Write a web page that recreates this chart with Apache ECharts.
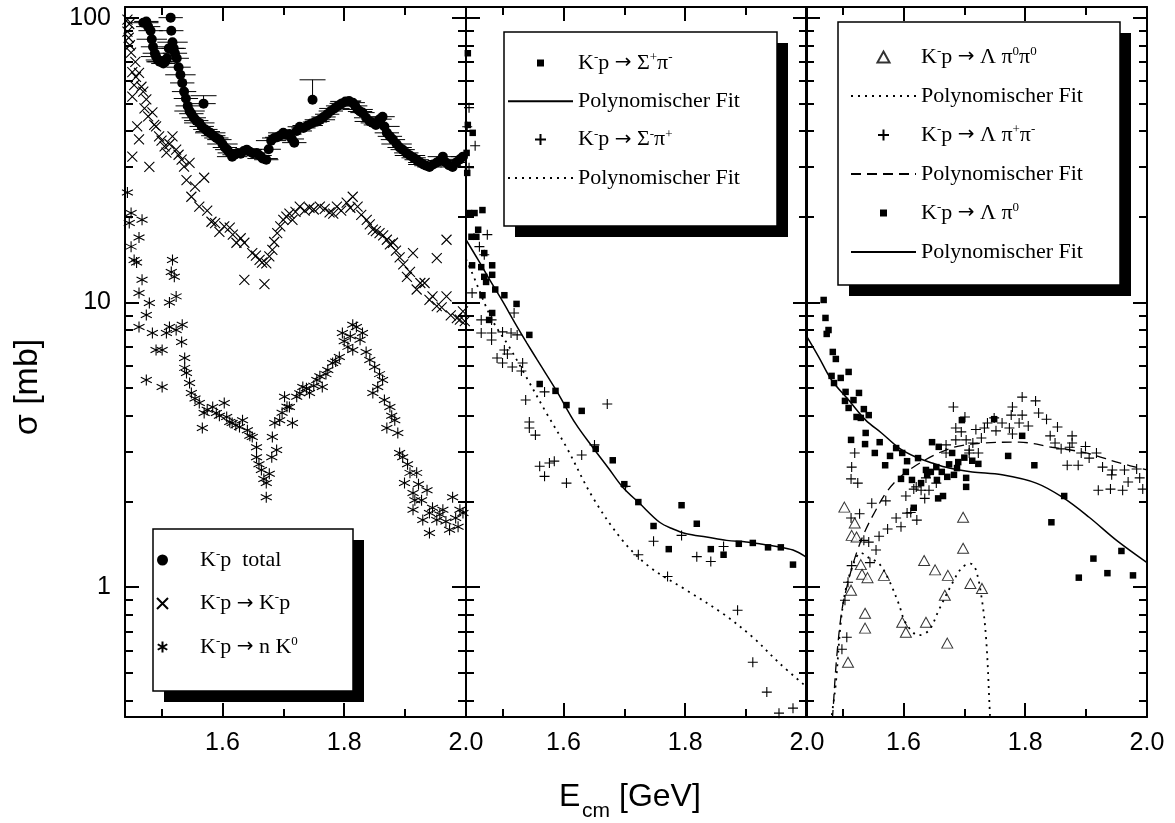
<!DOCTYPE html>
<html><head><meta charset="utf-8">
<script src="https://cdn.jsdelivr.net/npm/echarts@6.0.0/dist/echarts.min.js"></script>
<style>html,body{margin:0;padding:0;background:#fff}#c{width:1175px;height:823px}</style>
</head><body><div id="c"></div>
<script>
// ---------------- data ----------------
const xTickLabels = [1.6, 1.8, 2.0];
const xMinorTicks = [1.5, 1.7, 1.9];
const yTickLabels = [1, 10, 100];
const yMinorTicks = [0.4,0.5,0.6,0.7,0.8,0.9,2,3,4,5,6,7,8,9,20,30,40,50,60,70,80,90];

// K-p total: [E, sigma, dE]
const kpTotal = [
[1.470,96,0.025],[1.475,97,0.02],[1.478,93,0.02],[1.482,90,0.02],[1.484,84,0.025],[1.486,79,0.02],
[1.489,75,0.02],[1.491,73,0.025],[1.494,71,0.02],[1.497,70,0.02],[1.500,70,0.025],[1.503,69,0.02],
[1.506,70,0.02],[1.509,72,0.02],[1.512,78,0.025],[1.515,100,0.02],[1.516,90,0.02],[1.518,82,0.025],
[1.520,78,0.02],[1.522,75,0.02],[1.525,72,0.02],[1.528,67,0.02],[1.531,63,0.025],[1.534,59,0.02],
[1.537,55,0.02],[1.540,52,0.02],[1.543,49,0.02],[1.546,47,0.025],[1.549,46,0.02],[1.553,44.5,0.02],
[1.557,43.5,0.02],[1.562,42.7,0.025],[1.566,41.5,0.02],[1.569,49.9,0.02],[1.572,40.5,0.02],[1.576,39.8,0.02],
[1.580,39.4,0.025],[1.585,38.5,0.02],[1.590,37.8,0.02],[1.595,37.3,0.02],[1.600,36,0.025],[1.604,35,0.02],
[1.608,34.4,0.02],[1.612,33.5,0.02],[1.616,32.5,0.025],[1.620,33,0.02],[1.625,33.5,0.02],[1.630,33.3,0.02],
[1.635,34.0,0.02],[1.640,34.4,0.025],[1.645,33.8,0.02],[1.650,33.4,0.02],[1.656,33.5,0.02],[1.661,32.8,0.02],
[1.666,32.0,0.025],[1.672,31.7,0.02],[1.676,34.5,0.02],[1.680,37,0.025],[1.685,37.8,0.02],[1.690,38.0,0.02],
[1.695,38.6,0.02],[1.700,39.4,0.025],[1.705,38.8,0.02],[1.710,39.0,0.02],[1.714,37.5,0.02],[1.718,36.4,0.02],
[1.722,40.0,0.025],[1.727,41.4,0.02],[1.733,41.0,0.02],[1.740,41.8,0.025],[1.746,42.5,0.02],[1.748,51.5,0],
[1.752,43.0,0.02],[1.756,43.2,0.02],[1.760,43.8,0.025],[1.766,44.8,0.02],[1.772,45.8,0.02],[1.778,47.0,0.02],
[1.784,48.0,0.025],[1.790,49.0,0.02],[1.796,50.0,0.02],[1.802,50.8,0.025],[1.808,51.0,0.02],[1.814,50.3,0.02],
[1.818,49.0,0.02],[1.822,47.6,0.025],[1.826,46.8,0.02],[1.830,46.4,0.02],[1.836,44.5,0.02],[1.842,43.2,0.025],
[1.847,42.7,0.02],[1.852,42.0,0.02],[1.858,44.0,0.02],[1.863,44.9,0.02],[1.866,41.5,0.025],[1.870,39.4,0.02],
[1.875,38.3,0.02],[1.880,37.3,0.02],[1.886,36.0,0.025],[1.891,35.0,0.02],[1.896,34.4,0.02],[1.902,33.5,0.02],
[1.908,32.8,0.025],[1.914,32.2,0.02],[1.919,31.7,0.02],[1.925,31.0,0.02],[1.930,30.5,0.025],[1.935,30.2,0.02],
[1.940,29.9,0.02],[1.946,30.5,0.02],[1.952,31.0,0.02],[1.957,31.5,0.02],[1.962,32.5,0.025],[1.967,31.0,0.02],
[1.972,30.3,0.02],[1.978,29.9,0.02],[1.984,31.0,0.025],[1.990,31.8,0.02],[1.995,32.5,0.02]
];
// upward error bars: [E, sigma, sigmaHigh]
const kpTotalErrUp = [[1.569,49.9,53.2],[1.748,51.5,60.5]];

const kpElastic = [
[1.444,98.4],[1.447,95],[1.446,85],[1.444,89.4],[1.450,75.4],[1.452,64.4],[1.455,58.0],[1.452,52.8],[1.463,64.0],
[1.467,57.2],[1.475,51.6],[1.460,41.5],[1.463,37.4],[1.452,32.5],[1.480,29.9],[1.485,46.5],[1.491,41.5],[1.496,38.3],
[1.505,35.3],[1.508,33.6],[1.518,38.3],[1.524,34.4],[1.533,31.7],[1.546,30.9],[1.541,26.9],[1.570,27.4],[1.549,23.5],
[1.562,21.7],[1.582,19.2],[1.595,17.7],[1.612,18.3],[1.623,16.2],[1.636,16.2],[1.649,14.9],[1.661,14.1],[1.672,13.7],
[1.636,12.0],[1.669,11.6],[1.682,15.3],[1.690,17.5],[1.705,20.0],[1.715,19.5],[1.727,21.7],[1.743,21.5],[1.760,21.7],
[1.776,20.7],[1.788,21.7],[1.804,22.4],[1.814,23.5],[1.822,21.7],[1.837,19.5],[1.847,18.0],[1.858,17.5],[1.870,16.6],
[1.880,16.2],[1.891,14.4],[1.903,12.3],[1.913,14.9],[1.919,11.1],[1.932,11.7],[1.940,10.2],[1.952,9.7],[1.968,16.6],
[1.952,14.3],[1.968,10.5],[1.990,8.7],[1.448,80],[1.457,70],[1.458,62],[1.470,55],[1.472,48],[1.478,45],[1.488,42],
[1.500,37],[1.513,36],[1.528,33],[1.537,30],[1.555,25.5],[1.575,21],[1.588,19],[1.603,18.5],[1.617,17.3],[1.630,16.8],
[1.655,14.6],[1.665,13.8],[1.677,14.5],[1.685,16.3],[1.695,18.5],[1.700,19.5],[1.710,20.5],[1.720,20.8],[1.735,21.0],
[1.750,21.2],[1.768,21.3],[1.782,20.5],[1.795,21.0],[1.810,21.5],[1.828,20.3],[1.842,18.8],[1.852,17.8],[1.864,17.2],
[1.875,16.0],[1.885,15.2],[1.897,13.6],[1.908,12.8],[1.925,11.7],[1.945,10.5],[1.960,9.6],[1.975,9.0],[1.985,8.8],
[1.995,9.3],[1.998,8.6]
];

const kpChargeEx = [
[1.444,24.3],[1.450,20.6],[1.447,19.0],[1.468,19.5],[1.463,16.9],[1.450,15.7],[1.455,14.1],[1.459,13.8],[1.468,12.0],
[1.463,10.8],[1.480,9.96],[1.518,14.1],[1.516,12.8],[1.521,12.3],[1.524,10.5],[1.513,10.0],[1.463,8.20],[1.475,9.03],
[1.485,7.81],[1.491,6.81],[1.501,6.81],[1.508,7.81],[1.513,8.20],[1.524,8.00],[1.534,8.34],[1.475,5.34],[1.501,5.05],
[1.533,7.26],[1.538,6.38],[1.538,5.89],[1.541,5.65],[1.546,5.21],[1.549,4.81],[1.562,4.43],[1.570,4.09],[1.567,3.62],
[1.584,4.29],[1.590,4.09],[1.603,4.43],[1.607,3.96],[1.616,3.77],[1.628,3.65],[1.633,3.86],[1.641,3.56],[1.649,3.37],
[1.656,3.10],[1.656,2.86],[1.664,2.58],[1.672,2.32],[1.672,2.07],[1.681,2.86],[1.689,3.03],[1.682,3.37],[1.686,3.77],
[1.694,3.86],[1.702,4.66],[1.710,4.29],[1.715,3.77],[1.722,4.66],[1.732,5.05],[1.743,4.81],[1.755,5.34],[1.764,5.05],
[1.773,5.79],[1.781,6.13],[1.792,6.43],[1.797,7.81],[1.806,6.98],[1.814,8.34],[1.820,8.20],[1.830,7.81],[1.814,6.81],
[1.842,6.28],[1.850,5.93],[1.847,4.81],[1.855,5.05],[1.863,5.34],[1.866,4.54],[1.875,4.29],[1.870,3.62],[1.883,3.86],
[1.888,3.48],[1.891,2.96],[1.896,2.86],[1.899,2.32],[1.908,2.52],[1.919,2.52],[1.913,2.14],[1.916,2.02],[1.913,1.87],
[1.927,2.02],[1.936,2.19],[1.929,1.72],[1.940,1.82],[1.940,1.55],[1.952,1.72],[1.962,1.87],[1.973,1.59],[1.978,2.07],
[1.990,1.87],[1.987,1.63],[1.995,1.82],[1.555,4.6],[1.575,4.2],[1.595,4.0],[1.612,3.8],[1.622,3.7],[1.645,3.4],
[1.660,2.7],[1.668,2.4],[1.677,2.5],[1.698,4.1],[1.706,4.3],[1.727,4.8],[1.738,5.0],[1.750,5.1],[1.760,5.5],[1.770,5.6],
[1.786,6.2],[1.800,7.3],[1.810,7.6],[1.826,7.4],[1.836,6.7],[1.858,5.6],[1.878,4.0],[1.904,2.7],[1.922,2.3],[1.945,1.9],
[1.957,1.8],[1.967,1.7],[1.983,1.75]
];

const sigPlusPiMinus = [
[1.443,75],[1.451,39.4],[1.443,42],[1.441,33.5],[1.442,28.5],[1.445,20.6],[1.454,20.6],[1.467,21.1],[1.460,18.0],
[1.449,17.0],[1.457,17.0],[1.470,14.9],[1.450,13.5],[1.465,13.3],[1.483,13.5],[1.470,12.3],[1.483,12.5],[1.473,11.8],
[1.488,11.1],[1.503,10.6],[1.467,10.6],[1.523,9.88],[1.483,9.18],[1.478,8.68],[1.544,7.69],[1.561,5.17],[1.587,4.89],
[1.605,4.36],[1.630,4.16],[1.653,3.06],[1.681,2.79],[1.700,2.30],[1.723,1.99],[1.794,1.94],[1.748,1.64],[1.819,1.67],
[1.773,1.36],[1.842,1.36],[1.863,1.30],[1.888,1.42],[1.911,1.43],[1.936,1.38],[1.957,1.38],[1.977,1.20]
];
const sigPlusPiMinusFit = [
[1.44,16.6],[1.46,14.1],[1.48,11.9],[1.50,10.1],[1.52,8.5],[1.54,7.2],[1.557,6.28],[1.588,4.92],[1.62,3.75],
[1.648,3.10],[1.675,2.6],[1.697,2.25],[1.725,1.97],[1.758,1.69],[1.78,1.6],[1.802,1.54],[1.835,1.5],[1.868,1.46],
[1.90,1.44],[1.922,1.42],[1.95,1.39],[1.977,1.35],[2.0,1.27]
];
const sigMinusPiPlus = [
[1.445,48.3],[1.442,41.4],[1.455,35.5],[1.445,29.7],[1.475,17.3],[1.462,15.7],[1.470,14.7],[1.450,10.8],[1.465,8.68],
[1.482,8.68],[1.465,7.81],[1.482,7.81],[1.500,7.88],[1.514,7.81],[1.524,7.69],[1.519,9.18],[1.482,7.38],[1.503,6.81],
[1.508,6.59],[1.491,6.38],[1.500,6.13],[1.516,5.93],[1.533,6.13],[1.531,5.74],[1.538,4.54],[1.569,4.85],[1.544,3.80],
[1.544,3.62],[1.554,3.42],[1.672,4.40],[1.651,3.16],[1.630,2.91],[1.585,2.77],[1.577,2.73],[1.561,2.66],[1.569,2.45],
[1.605,2.32],[1.702,2.26],[1.723,1.30],[1.748,1.45],[1.771,1.09],[1.794,1.52],[1.819,1.28],[1.842,1.23],[1.863,1.39],
[1.886,0.830],[1.911,0.545],[1.934,0.428],[1.954,0.361],[1.977,0.376]
];
const sigMinusPiPlusFit = [
[1.44,14.2],[1.45,12.7],[1.483,8.68],[1.511,6.98],[1.539,5.47],[1.572,4.09],[1.605,3.10],[1.648,2.07],[1.697,1.46],
[1.741,1.18],[1.802,0.976],[1.861,0.81],[1.911,0.667],[1.955,0.540],[2.0,0.445]
];

const lamPi0Pi0 = [
[1.503,1.91],[1.520,1.68],[1.515,1.52],[1.523,1.50],[1.530,1.20],[1.532,1.11],[1.541,1.08],[1.568,1.10],[1.514,0.976],
[1.537,0.81],[1.537,0.718],[1.509,0.545],[1.598,0.753],[1.604,0.695],[1.637,0.753],[1.634,1.24],[1.652,1.15],
[1.673,1.10],[1.668,0.937],[1.672,0.636],[1.698,1.76],[1.698,1.37],[1.710,1.03],[1.729,0.99]
];
const lamPi0Pi0Fit = [
[1.479,0.30],[1.482,0.349],[1.489,0.46],[1.497,0.747],[1.505,0.976],[1.518,1.21],[1.530,1.32],[1.543,1.27],[1.560,1.21],
[1.576,1.06],[1.592,0.878],[1.604,0.747],[1.625,0.678],[1.642,0.706],[1.658,0.830],[1.680,1.03],[1.696,1.17],
[1.710,1.21],[1.719,1.15],[1.729,0.90],[1.736,0.651],[1.742,0.36],[1.744,0.30]
];
const lamPipPim = [
[1.682,4.29],[1.701,3.96],[1.686,3.62],[1.695,3.51],[1.686,3.29],[1.670,3.16],[1.703,3.29],[1.670,2.96],[1.708,3.03],
[1.520,2.96],[1.515,2.64],[1.514,2.40],[1.525,2.32],[1.637,2.42],[1.654,2.32],[1.621,2.25],[1.629,2.19],[1.617,2.21],
[1.642,2.19],[1.635,2.05],[1.604,2.09],[1.571,2.01],[1.548,1.97],[1.514,1.75],[1.528,1.81],[1.588,1.75],[1.606,1.82],
[1.612,1.83],[1.622,1.72],[1.596,1.63],[1.574,1.60],[1.560,1.51],[1.543,1.44],[1.535,1.46],[1.555,1.35],[1.545,1.22],
[1.515,1.19],[1.509,1.04],[1.504,0.90],[1.507,0.667],[1.499,0.605],[1.795,4.65],[1.817,4.51],[1.779,4.29],[1.795,4.02],
[1.822,4.09],[1.777,4.02],[1.835,3.89],[1.749,3.93],[1.738,3.77],[1.762,3.77],[1.790,3.77],[1.805,3.68],[1.853,3.65],
[1.774,3.62],[1.752,3.54],[1.733,3.62],[1.719,3.58],[1.779,3.45],[1.841,3.40],[1.877,3.40],[1.728,3.34],[1.849,3.21],
[1.877,3.21],[1.859,3.06],[1.873,3.10],[1.899,3.12],[1.917,2.96],[1.892,2.96],[1.905,2.84],[1.869,2.68],[1.887,2.68],
[1.927,2.64],[1.943,2.58],[1.963,2.58],[1.983,2.60],[1.942,2.48],[1.988,2.42],[1.969,2.34],[1.920,2.19],[1.940,2.21],
[1.960,2.19],[1.993,2.21],[1.708,2.96],[1.714,3.21],[1.723,2.96]
];
const lamPipPimFit = [
[1.481,0.30],[1.484,0.36],[1.490,0.554],[1.499,0.83],[1.510,1.06],[1.523,1.32],[1.538,1.59],[1.555,1.87],[1.571,2.14],
[1.593,2.42],[1.621,2.68],[1.658,2.96],[1.691,3.13],[1.733,3.21],[1.790,3.23],[1.844,3.10],[1.900,2.96],[1.955,2.73],
[2.0,2.58]
];
const lamPi0 = [
[1.469,10.2],[1.472,8.82],[1.477,8.00],[1.474,7.75],[1.484,6.70],[1.489,6.33],[1.482,5.52],[1.486,5.21],[1.497,5.43],
[1.510,5.70],[1.505,4.85],[1.527,4.81],[1.504,4.51],[1.510,4.26],[1.518,4.54],[1.535,4.22],[1.523,3.96],[1.543,4.02],
[1.530,3.93],[1.538,3.48],[1.514,3.29],[1.537,3.18],[1.561,3.23],[1.553,2.96],[1.588,3.08],[1.578,2.89],[1.598,2.96],
[1.570,2.68],[1.606,2.77],[1.624,2.84],[1.604,2.54],[1.596,2.40],[1.614,2.38],[1.629,2.32],[1.637,2.58],[1.647,3.23],
[1.658,3.11],[1.654,2.64],[1.645,2.54],[1.639,2.48],[1.663,2.54],[1.672,2.44],[1.683,2.48],[1.655,2.38],[1.657,2.05],
[1.665,2.09],[1.617,1.90],[1.703,2.42],[1.703,2.25],[1.680,2.96],[1.696,3.86],[1.723,2.71],[1.749,3.89],[1.795,3.40],
[1.772,2.89],[1.815,2.68],[1.864,2.09],[1.843,1.69],[1.912,1.26],[1.958,1.34],[1.888,1.08],[1.935,1.12],[1.977,1.10],
[1.690,2.75],[1.700,2.85],[1.713,2.78],[1.688,2.62],[1.675,2.70]
];
const lamPi0Fit = [
[1.44,7.68],[1.461,6.43],[1.482,5.34],[1.510,4.54],[1.538,3.86],[1.564,3.48],[1.593,3.08],[1.621,2.86],[1.647,2.73],
[1.675,2.62],[1.713,2.54],[1.762,2.48],[1.818,2.32],[1.861,2.07],[1.905,1.76],[1.950,1.46],[2.0,1.22]
];

// ---------------- chart ----------------
const SANS = '"Liberation Sans", Arial, sans-serif';
const SERIF = '"Liberation Serif", "Times New Roman", serif';
const SYM_X = 'path://M0 0L10 10M10 0L0 10';
const SYM_AST = 'path://M5 0L5 10M0.67 2.5L9.33 7.5M9.33 2.5L0.67 7.5';
const SYM_PLUS = 'path://M5 0L5 10M0 5L10 5';
const ICON_SQ = 'path://M0 0M11 11M2 2L9 2L9 9L2 9Z';
const ICON_TRI = 'path://M5.5 0.5L11 10.5L0 10.5Z';

const X_MIN = 1.44, X_MAX = 2.0, Y_MIN = 0.35, Y_MAX = 109;
const gridLefts = [125, 466, 806];
const grids = gridLefts.map(l => ({ left: l, top: 7, width: 341, height: 710 }));

const xAxes = [], yAxes = [];
gridLefts.forEach((_, g) => {
  const base = { type: 'value', gridIndex: g, min: X_MIN, max: X_MAX, splitLine: { show: false } };
  const line = { show: true, onZero: false, lineStyle: { color: '#000', width: 2 } };
  xAxes.push(Object.assign({}, base, { position: 'bottom', axisLine: line,
    axisTick: { inside: true, length: 14, customValues: xTickLabels, lineStyle: { color: '#000', width: 2 } },
    axisLabel: { customValues: xTickLabels, formatter: v => Number(v).toFixed(1), fontSize: 25, fontFamily: SANS, color: '#000', margin: 14 } }));
  xAxes.push(Object.assign({}, base, { position: 'bottom', axisLine: { show: false },
    axisTick: { inside: true, length: 8, customValues: xMinorTicks, lineStyle: { color: '#000', width: 2 } },
    axisLabel: { show: false } }));
  xAxes.push(Object.assign({}, base, { position: 'top', axisLine: line,
    axisTick: { inside: true, length: 14, customValues: xTickLabels, lineStyle: { color: '#000', width: 2 } },
    axisLabel: { show: false } }));
  xAxes.push(Object.assign({}, base, { position: 'top', axisLine: { show: false },
    axisTick: { inside: true, length: 8, customValues: xMinorTicks, lineStyle: { color: '#000', width: 2 } },
    axisLabel: { show: false } }));

  const ybase = { type: 'log', logBase: 10, gridIndex: g, min: Y_MIN, max: Y_MAX, splitLine: { show: false }, minorSplitLine: { show: false } };
  yAxes.push(Object.assign({}, ybase, { position: 'left', axisLine: line,
    axisTick: { inside: true, length: 14, customValues: yTickLabels, lineStyle: { color: '#000', width: 2 } },
    axisLabel: g === 0 ? { customValues: yTickLabels, formatter: v => String(Math.round(v)), fontSize: 25, fontFamily: SANS, color: '#000', margin: 14 } : { show: false } }));
  yAxes.push(Object.assign({}, ybase, { position: 'left', axisLine: { show: false },
    axisTick: { inside: true, length: 8, customValues: yMinorTicks, lineStyle: { color: '#000', width: 2 } },
    axisLabel: { show: false } }));
  yAxes.push(Object.assign({}, ybase, { position: 'right', axisLine: line,
    axisTick: { inside: true, length: 14, customValues: yTickLabels, lineStyle: { color: '#000', width: 2 } },
    axisLabel: { show: false } }));
  yAxes.push(Object.assign({}, ybase, { position: 'right', axisLine: { show: false },
    axisTick: { inside: true, length: 8, customValues: yMinorTicks, lineStyle: { color: '#000', width: 2 } },
    axisLabel: { show: false } }));
});

const onGrid = g => ({ xAxisIndex: 4 * g, yAxisIndex: 4 * g });
const strokeSym = (sym, size) => ({ type: 'scatter', symbol: sym, symbolSize: size, silent: true,
  itemStyle: { color: 'rgba(0,0,0,0)', borderColor: '#000', borderWidth: 1.1, opacity: 1 } });
const fillSym = (sym, size) => ({ type: 'scatter', symbol: sym, symbolSize: size, silent: true,
  itemStyle: { color: '#000', opacity: 1 } });
const fitLine = (type, width) => ({ type: 'line', symbol: 'none', smooth: 0.35, silent: true, clip: true,
  itemStyle: { color: '#000' }, lineStyle: { color: '#000', width: width, type: type } });

const clampSeg = (p1, p2, cs) => {
  const lo = cs.x, hi = cs.x + cs.width;
  return [Math.max(lo, Math.min(hi, p1)), Math.max(lo, Math.min(hi, p2))];
};

const series = [
  Object.assign({ type: 'custom', name: 'errx', silent: true, data: kpTotal, encode: { x: 0, y: 1 },
    renderItem: (params, api) => {
      const x = api.value(0), y = api.value(1), dx = api.value(2);
      if (!dx) return null;
      const a = api.coord([x - dx, y]), b = api.coord([x + dx, y]);
      const seg = clampSeg(a[0], b[0], params.coordSys);
      return { type: 'line', shape: { x1: seg[0], y1: a[1], x2: seg[1], y2: b[1] }, style: { stroke: '#000', lineWidth: 1 } };
    } }, onGrid(0)),
  Object.assign({ type: 'custom', name: 'erry', silent: true, data: kpTotalErrUp, encode: { x: 0, y: 1 },
    renderItem: (params, api) => {
      const x = api.value(0), y = api.value(1), yh = api.value(2);
      const a = api.coord([x, y]), b = api.coord([x, yh]);
      return { type: 'group', children: [
        { type: 'line', shape: { x1: a[0], y1: a[1], x2: b[0], y2: b[1] }, style: { stroke: '#000', lineWidth: 1 } },
        { type: 'line', shape: { x1: b[0] - 13, y1: b[1], x2: b[0] + 13, y2: b[1] }, style: { stroke: '#000', lineWidth: 1 } }
      ] };
    } }, onGrid(0)),
  Object.assign(fillSym('circle', 10), { name: 'tot', data: kpTotal.map(d => [d[0], d[1]]) }, onGrid(0)),
  Object.assign(strokeSym(SYM_X, 10), { name: 'el', data: kpElastic }, onGrid(0)),
  Object.assign(strokeSym(SYM_AST, 11), { name: 'cex', data: kpChargeEx }, onGrid(0)),

  Object.assign(fillSym('rect', 6.5), { name: 's1', data: sigPlusPiMinus }, onGrid(1)),
  Object.assign(fitLine('solid', 1.5), { name: 'f1', data: sigPlusPiMinusFit }, onGrid(1)),
  Object.assign(strokeSym(SYM_PLUS, 10), { name: 's2', data: sigMinusPiPlus }, onGrid(1)),
  Object.assign(fitLine([2, 5], 1.8), { name: 'f2', data: sigMinusPiPlusFit }, onGrid(1)),

  Object.assign({ type: 'scatter', symbol: 'triangle', symbolSize: [11, 10], silent: true,
    itemStyle: { color: '#fff', borderColor: '#000', borderWidth: 1 } }, { name: 'l00', data: lamPi0Pi0 }, onGrid(2)),
  Object.assign(fitLine([2, 5], 1.8), { name: 'f00', data: lamPi0Pi0Fit }, onGrid(2)),
  Object.assign(strokeSym(SYM_PLUS, 10), { name: 'lpm', data: lamPipPim }, onGrid(2)),
  Object.assign(fitLine([10, 6], 1.3), { name: 'fpm', data: lamPipPimFit }, onGrid(2)),
  Object.assign(fillSym('rect', 6.5), { name: 'l0', data: lamPi0 }, onGrid(2)),
  Object.assign(fitLine('solid', 1.5), { name: 'f0', data: lamPi0Fit }, onGrid(2))
];

const FIT = '{t|Polynomischer Fit}';
const ARR = '{a|→}';
const legendLabels = {
  tot: '{t|K}{s|-}{t|p  total}',
  el: '{t|K}{s|-}{t|p }' + ARR + '{t| K}{s|-}{t|p}',
  cex: '{t|K}{s|-}{t|p }' + ARR + '{t| n K}{s|0}',
  s1: '{t|K}{s|-}{t|p }' + ARR + '{t| Σ}{s|+}{t|π}{s|-}',
  f1: FIT,
  s2: '{t|K}{s|-}{t|p }' + ARR + '{t| Σ}{s|-}{t|π}{s|+}',
  f2: FIT,
  l00: '{t|K}{s|-}{t|p }' + ARR + '{t| Λ π}{s|0}{t|π}{s|0}',
  f00: FIT,
  lpm: '{t|K}{s|-}{t|p }' + ARR + '{t| Λ π}{s|+}{t|π}{s|-}',
  fpm: FIT,
  l0: '{t|K}{s|-}{t|p }' + ARR + '{t| Λ π}{s|0}',
  f0: FIT
};
const legendText = { fontFamily: SERIF, fontSize: 22, color: '#000', lineHeight: 24,
  rich: { t: { fontFamily: SERIF, fontSize: 22, lineHeight: 24, color: '#000' },
          a: { fontFamily: '"DejaVu Sans"', fontSize: 20, lineHeight: 24, color: '#000' },
          s: { fontFamily: SERIF, fontSize: 13, lineHeight: 13, verticalAlign: 'top', color: '#000' } } };
const mkLegend = (left, top, gap, data) => ({ orient: 'vertical', left: left, top: top, itemGap: gap, itemWidth: 65, itemHeight: 11,
  padding: 0, selectedMode: false, z: 20, data: data, formatter: n => legendLabels[n], textStyle: legendText });
const lineItem = n => ({ name: n, itemStyle: { opacity: 0, color: 'rgba(0,0,0,0)', borderWidth: 0 } });

const boxes = [[153, 529, 200, 162], [504, 32, 273, 194], [838, 22, 282, 263]];
const graphic = [];
boxes.forEach(b => {
  graphic.push({ type: 'rect', z: 10, shape: { x: b[0] + 11, y: b[1] + 11, width: b[2], height: b[3] }, style: { fill: '#000' } });
  graphic.push({ type: 'rect', z: 11, shape: { x: b[0], y: b[1], width: b[2], height: b[3] }, style: { fill: '#fff', stroke: '#000', lineWidth: 1.5 } });
});
graphic.push({ type: 'text', z: 12, x: 559, y: 797, style: { text: 'E', fontSize: 32, fontFamily: SANS, fill: '#000', verticalAlign: 'middle', align: 'left' } });
graphic.push({ type: 'text', z: 12, x: 582, y: 811, style: { text: 'cm', fontSize: 21, fontFamily: SANS, fill: '#000', verticalAlign: 'middle', align: 'left' } });
graphic.push({ type: 'text', z: 12, x: 619, y: 797, style: { text: '[GeV]', fontSize: 32, fontFamily: SANS, fill: '#000', verticalAlign: 'middle', align: 'left' } });
graphic.push({ type: 'text', z: 12, x: 28, y: 387, rotation: Math.PI / 2, style: { text: 'σ [mb]', fontSize: 34, fontFamily: SANS, fill: '#000', verticalAlign: 'middle', align: 'center' } });

const chart = echarts.init(document.getElementById('c'), null, { renderer: 'canvas' });
chart.setOption({
  backgroundColor: '#fff',
  animation: false,
  grid: grids,
  xAxis: xAxes,
  yAxis: yAxes,
  legend: [
    mkLegend(156, 548, 19.5, [{ name: 'tot' }, { name: 'el' }, { name: 'cex' }]),
    mkLegend(507, 51, 14.3, [{ name: 's1', icon: ICON_SQ }, lineItem('f1'), { name: 's2' }, lineItem('f2')]),
    mkLegend(850, 45, 15, [{ name: 'l00', icon: ICON_TRI }, lineItem('f00'), { name: 'lpm' }, lineItem('fpm'), { name: 'l0', icon: ICON_SQ }, lineItem('f0')])
  ],
  graphic: graphic,
  series: series
});
</script></body></html>
